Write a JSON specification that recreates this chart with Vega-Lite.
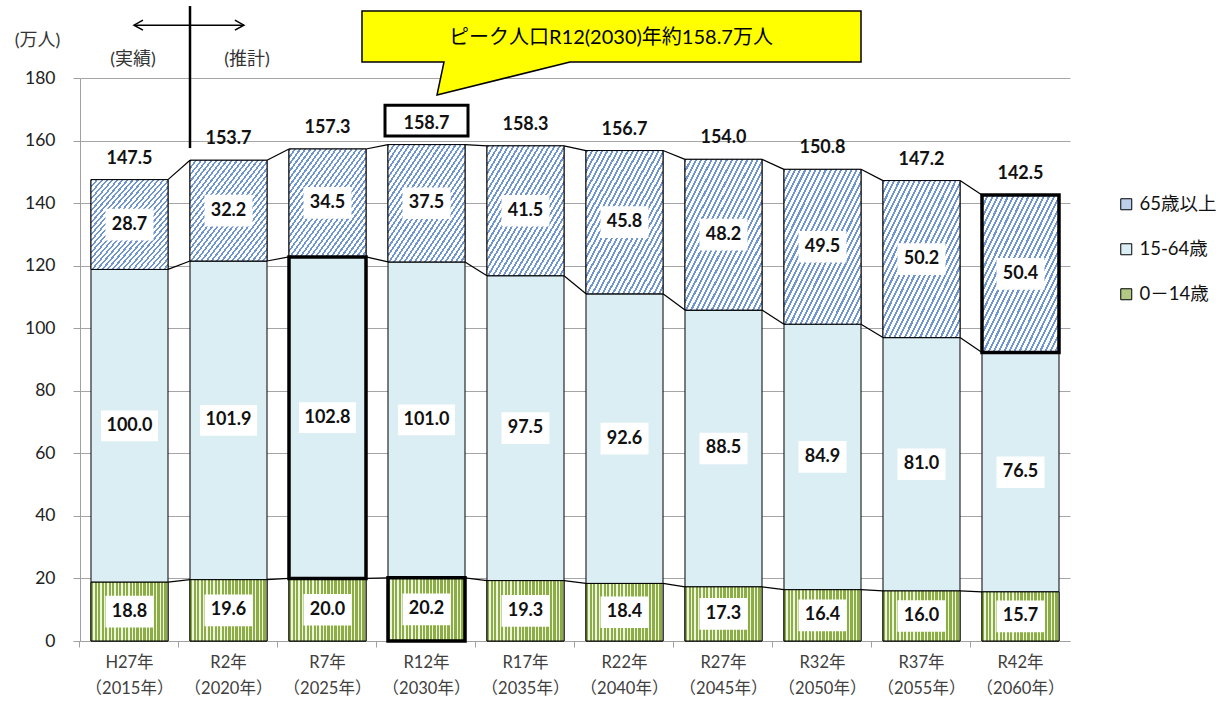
{
  "$schema": "https://vega.github.io/schema/vega-lite/v6.json",
  "width": 990,
  "height": 563,
  "autosize": {"type": "none"},
  "padding": {"left": 80, "top": 78, "right": 161, "bottom": 63},
  "background": "white",
  "config": {"view": {"stroke": null}, "font": "Lato, Noto Sans CJK JP"},
  "data": {"values": [
    {"year": "H27年（2015年）", "yr": 2015, "series": "0－14歳", "ord": 1, "value": 18.8},
    {"year": "H27年（2015年）", "yr": 2015, "series": "15-64歳", "ord": 2, "value": 100.0},
    {"year": "H27年（2015年）", "yr": 2015, "series": "65歳以上", "ord": 3, "value": 28.7},
    {"year": "R2年（2020年）", "yr": 2020, "series": "0－14歳", "ord": 1, "value": 19.6},
    {"year": "R2年（2020年）", "yr": 2020, "series": "15-64歳", "ord": 2, "value": 101.9},
    {"year": "R2年（2020年）", "yr": 2020, "series": "65歳以上", "ord": 3, "value": 32.2},
    {"year": "R7年（2025年）", "yr": 2025, "series": "0－14歳", "ord": 1, "value": 20.0},
    {"year": "R7年（2025年）", "yr": 2025, "series": "15-64歳", "ord": 2, "value": 102.8},
    {"year": "R7年（2025年）", "yr": 2025, "series": "65歳以上", "ord": 3, "value": 34.5},
    {"year": "R12年（2030年）", "yr": 2030, "series": "0－14歳", "ord": 1, "value": 20.2},
    {"year": "R12年（2030年）", "yr": 2030, "series": "15-64歳", "ord": 2, "value": 101.0},
    {"year": "R12年（2030年）", "yr": 2030, "series": "65歳以上", "ord": 3, "value": 37.5},
    {"year": "R17年（2035年）", "yr": 2035, "series": "0－14歳", "ord": 1, "value": 19.3},
    {"year": "R17年（2035年）", "yr": 2035, "series": "15-64歳", "ord": 2, "value": 97.5},
    {"year": "R17年（2035年）", "yr": 2035, "series": "65歳以上", "ord": 3, "value": 41.5},
    {"year": "R22年（2040年）", "yr": 2040, "series": "0－14歳", "ord": 1, "value": 18.4},
    {"year": "R22年（2040年）", "yr": 2040, "series": "15-64歳", "ord": 2, "value": 92.6},
    {"year": "R22年（2040年）", "yr": 2040, "series": "65歳以上", "ord": 3, "value": 45.8},
    {"year": "R27年（2045年）", "yr": 2045, "series": "0－14歳", "ord": 1, "value": 17.3},
    {"year": "R27年（2045年）", "yr": 2045, "series": "15-64歳", "ord": 2, "value": 88.5},
    {"year": "R27年（2045年）", "yr": 2045, "series": "65歳以上", "ord": 3, "value": 48.2},
    {"year": "R32年（2050年）", "yr": 2050, "series": "0－14歳", "ord": 1, "value": 16.4},
    {"year": "R32年（2050年）", "yr": 2050, "series": "15-64歳", "ord": 2, "value": 84.9},
    {"year": "R32年（2050年）", "yr": 2050, "series": "65歳以上", "ord": 3, "value": 49.5},
    {"year": "R37年（2055年）", "yr": 2055, "series": "0－14歳", "ord": 1, "value": 16.0},
    {"year": "R37年（2055年）", "yr": 2055, "series": "15-64歳", "ord": 2, "value": 81.0},
    {"year": "R37年（2055年）", "yr": 2055, "series": "65歳以上", "ord": 3, "value": 50.2},
    {"year": "R42年（2060年）", "yr": 2060, "series": "0－14歳", "ord": 1, "value": 15.7},
    {"year": "R42年（2060年）", "yr": 2060, "series": "15-64歳", "ord": 2, "value": 76.5},
    {"year": "R42年（2060年）", "yr": 2060, "series": "65歳以上", "ord": 3, "value": 50.4}
  ]},
  "layer": [
    {
      "mark": {"type": "bar", "stroke": "black", "strokeWidth": 1},
      "encoding": {
        "x": {
          "field": "year", "type": "nominal",
          "scale": {
            "domain": ["H27年（2015年）", "R2年（2020年）", "R7年（2025年）", "R12年（2030年）", "R17年（2035年）", "R22年（2040年）", "R27年（2045年）", "R32年（2050年）", "R37年（2055年）", "R42年（2060年）"],
            "paddingInner": 0.2222, "paddingOuter": 0.1111
          },
          "axis": {
            "title": null,
            "labelExpr": "[slice(datum.label, 0, indexof(datum.label, '（')), slice(datum.label, indexof(datum.label, '（'))]",
            "labelFontSize": 16.5, "labelColor": "#404040", "labelLineHeight": 26,
            "labelPadding": 7, "labelAngle": 0, "tickSize": 6, "tickColor": "#a0a0a0",
            "domainColor": "#a0a0a0", "grid": false, "bandPosition": -0.143
          }
        },
        "y": {
          "field": "value", "type": "quantitative", "stack": "zero",
          "scale": {"domain": [0, 180], "nice": false},
          "axis": {
            "values": [0, 20, 40, 60, 80, 100, 120, 140, 160, 180],
            "title": "(万人)", "titleAngle": 0, "titleX": -43, "titleY": -38,
            "titleAlign": "center", "titleBaseline": "middle", "titleFontSize": 18,
            "titleFontWeight": "normal", "titleColor": "#333333",
            "labelFontSize": 17.5, "labelColor": "#222222", "labelPadding": 18,
            "tickSize": 7, "tickColor": "#a0a0a0", "domainColor": "#a0a0a0",
            "grid": true, "gridColor": "#a6a6a6"
          }
        },
        "color": {
          "field": "series", "type": "nominal",
          "scale": {
            "domain": ["65歳以上", "15-64歳", "0－14歳"],
            "range": ["#bcd0ee", "#dbeef4", "#b3c983"]
          },
          "legend": {
            "title": null, "orient": "none", "legendX": 1037, "legendY": 117,
            "symbolType": "square", "symbolSize": 121, "symbolStrokeColor": "black",
            "symbolStrokeWidth": 1, "symbolOpacity": 1, "labelFontSize": 18.5, "labelColor": "#111111",
            "rowPadding": 26, "labelOffset": 4
          }
        },
        "order": {"field": "ord", "type": "quantitative"}
      }
    },
    {
      "transform": [
        {"stack": "value", "groupby": ["year"], "sort": [{"field": "ord", "order": "ascending"}], "as": ["s0", "s1"]},
        {"filter": "datum.series === '65歳以上'"}
      ],
      "mark": {"type": "bar", "stroke": "black", "strokeWidth": 1,
        "fill": {"gradient": "linear", "x1": 0, "y1": 0, "x2": 1, "y2": 1, "stops": [
          {"offset": 0, "color": "#6f96d1"}, {"offset": 0.0133, "color": "#6f96d1"}, {"offset": 0.0133, "color": "#ffffff"}, {"offset": 0.0333, "color": "#ffffff"},
          {"offset": 0.0333, "color": "#6f96d1"}, {"offset": 0.0467, "color": "#6f96d1"}, {"offset": 0.0467, "color": "#ffffff"}, {"offset": 0.0667, "color": "#ffffff"},
          {"offset": 0.0667, "color": "#6f96d1"}, {"offset": 0.08, "color": "#6f96d1"}, {"offset": 0.08, "color": "#ffffff"}, {"offset": 0.1, "color": "#ffffff"},
          {"offset": 0.1, "color": "#6f96d1"}, {"offset": 0.1133, "color": "#6f96d1"}, {"offset": 0.1133, "color": "#ffffff"}, {"offset": 0.1333, "color": "#ffffff"},
          {"offset": 0.1333, "color": "#6f96d1"}, {"offset": 0.1467, "color": "#6f96d1"}, {"offset": 0.1467, "color": "#ffffff"}, {"offset": 0.1667, "color": "#ffffff"},
          {"offset": 0.1667, "color": "#6f96d1"}, {"offset": 0.18, "color": "#6f96d1"}, {"offset": 0.18, "color": "#ffffff"}, {"offset": 0.2, "color": "#ffffff"},
          {"offset": 0.2, "color": "#6f96d1"}, {"offset": 0.2133, "color": "#6f96d1"}, {"offset": 0.2133, "color": "#ffffff"}, {"offset": 0.2333, "color": "#ffffff"},
          {"offset": 0.2333, "color": "#6f96d1"}, {"offset": 0.2467, "color": "#6f96d1"}, {"offset": 0.2467, "color": "#ffffff"}, {"offset": 0.2667, "color": "#ffffff"},
          {"offset": 0.2667, "color": "#6f96d1"}, {"offset": 0.28, "color": "#6f96d1"}, {"offset": 0.28, "color": "#ffffff"}, {"offset": 0.3, "color": "#ffffff"},
          {"offset": 0.3, "color": "#6f96d1"}, {"offset": 0.3133, "color": "#6f96d1"}, {"offset": 0.3133, "color": "#ffffff"}, {"offset": 0.3333, "color": "#ffffff"},
          {"offset": 0.3333, "color": "#6f96d1"}, {"offset": 0.3467, "color": "#6f96d1"}, {"offset": 0.3467, "color": "#ffffff"}, {"offset": 0.3667, "color": "#ffffff"},
          {"offset": 0.3667, "color": "#6f96d1"}, {"offset": 0.38, "color": "#6f96d1"}, {"offset": 0.38, "color": "#ffffff"}, {"offset": 0.4, "color": "#ffffff"},
          {"offset": 0.4, "color": "#6f96d1"}, {"offset": 0.4133, "color": "#6f96d1"}, {"offset": 0.4133, "color": "#ffffff"}, {"offset": 0.4333, "color": "#ffffff"},
          {"offset": 0.4333, "color": "#6f96d1"}, {"offset": 0.4467, "color": "#6f96d1"}, {"offset": 0.4467, "color": "#ffffff"}, {"offset": 0.4667, "color": "#ffffff"},
          {"offset": 0.4667, "color": "#6f96d1"}, {"offset": 0.48, "color": "#6f96d1"}, {"offset": 0.48, "color": "#ffffff"}, {"offset": 0.5, "color": "#ffffff"},
          {"offset": 0.5, "color": "#6f96d1"}, {"offset": 0.5133, "color": "#6f96d1"}, {"offset": 0.5133, "color": "#ffffff"}, {"offset": 0.5333, "color": "#ffffff"},
          {"offset": 0.5333, "color": "#6f96d1"}, {"offset": 0.5467, "color": "#6f96d1"}, {"offset": 0.5467, "color": "#ffffff"}, {"offset": 0.5667, "color": "#ffffff"},
          {"offset": 0.5667, "color": "#6f96d1"}, {"offset": 0.58, "color": "#6f96d1"}, {"offset": 0.58, "color": "#ffffff"}, {"offset": 0.6, "color": "#ffffff"},
          {"offset": 0.6, "color": "#6f96d1"}, {"offset": 0.6133, "color": "#6f96d1"}, {"offset": 0.6133, "color": "#ffffff"}, {"offset": 0.6333, "color": "#ffffff"},
          {"offset": 0.6333, "color": "#6f96d1"}, {"offset": 0.6467, "color": "#6f96d1"}, {"offset": 0.6467, "color": "#ffffff"}, {"offset": 0.6667, "color": "#ffffff"},
          {"offset": 0.6667, "color": "#6f96d1"}, {"offset": 0.68, "color": "#6f96d1"}, {"offset": 0.68, "color": "#ffffff"}, {"offset": 0.7, "color": "#ffffff"},
          {"offset": 0.7, "color": "#6f96d1"}, {"offset": 0.7133, "color": "#6f96d1"}, {"offset": 0.7133, "color": "#ffffff"}, {"offset": 0.7333, "color": "#ffffff"},
          {"offset": 0.7333, "color": "#6f96d1"}, {"offset": 0.7467, "color": "#6f96d1"}, {"offset": 0.7467, "color": "#ffffff"}, {"offset": 0.7667, "color": "#ffffff"},
          {"offset": 0.7667, "color": "#6f96d1"}, {"offset": 0.78, "color": "#6f96d1"}, {"offset": 0.78, "color": "#ffffff"}, {"offset": 0.8, "color": "#ffffff"},
          {"offset": 0.8, "color": "#6f96d1"}, {"offset": 0.8133, "color": "#6f96d1"}, {"offset": 0.8133, "color": "#ffffff"}, {"offset": 0.8333, "color": "#ffffff"},
          {"offset": 0.8333, "color": "#6f96d1"}, {"offset": 0.8467, "color": "#6f96d1"}, {"offset": 0.8467, "color": "#ffffff"}, {"offset": 0.8667, "color": "#ffffff"},
          {"offset": 0.8667, "color": "#6f96d1"}, {"offset": 0.88, "color": "#6f96d1"}, {"offset": 0.88, "color": "#ffffff"}, {"offset": 0.9, "color": "#ffffff"},
          {"offset": 0.9, "color": "#6f96d1"}, {"offset": 0.9133, "color": "#6f96d1"}, {"offset": 0.9133, "color": "#ffffff"}, {"offset": 0.9333, "color": "#ffffff"},
          {"offset": 0.9333, "color": "#6f96d1"}, {"offset": 0.9467, "color": "#6f96d1"}, {"offset": 0.9467, "color": "#ffffff"}, {"offset": 0.9667, "color": "#ffffff"},
          {"offset": 0.9667, "color": "#6f96d1"}, {"offset": 0.98, "color": "#6f96d1"}, {"offset": 0.98, "color": "#ffffff"}, {"offset": 1, "color": "#ffffff"}
        ]}},
      "encoding": {
        "x": {"field": "year", "type": "nominal"},
        "y": {"field": "s0", "type": "quantitative"},
        "y2": {"field": "s1"}
      }
    },
    {
      "transform": [
        {"stack": "value", "groupby": ["year"], "sort": [{"field": "ord", "order": "ascending"}], "as": ["s0", "s1"]},
        {"filter": "datum.series === '0－14歳'"}
      ],
      "mark": {"type": "bar", "stroke": "black", "strokeWidth": 1,
        "fill": {"gradient": "linear", "x1": 0, "y1": 0, "x2": 1, "y2": 0, "stops": [
          {"offset": 0, "color": "#8cad45"}, {"offset": 0.0273, "color": "#8cad45"}, {"offset": 0.0273, "color": "#eef4e0"}, {"offset": 0.0455, "color": "#eef4e0"},
          {"offset": 0.0455, "color": "#8cad45"}, {"offset": 0.0727, "color": "#8cad45"}, {"offset": 0.0727, "color": "#eef4e0"}, {"offset": 0.0909, "color": "#eef4e0"},
          {"offset": 0.0909, "color": "#8cad45"}, {"offset": 0.1182, "color": "#8cad45"}, {"offset": 0.1182, "color": "#eef4e0"}, {"offset": 0.1364, "color": "#eef4e0"},
          {"offset": 0.1364, "color": "#8cad45"}, {"offset": 0.1636, "color": "#8cad45"}, {"offset": 0.1636, "color": "#eef4e0"}, {"offset": 0.1818, "color": "#eef4e0"},
          {"offset": 0.1818, "color": "#8cad45"}, {"offset": 0.2091, "color": "#8cad45"}, {"offset": 0.2091, "color": "#eef4e0"}, {"offset": 0.2273, "color": "#eef4e0"},
          {"offset": 0.2273, "color": "#8cad45"}, {"offset": 0.2545, "color": "#8cad45"}, {"offset": 0.2545, "color": "#eef4e0"}, {"offset": 0.2727, "color": "#eef4e0"},
          {"offset": 0.2727, "color": "#8cad45"}, {"offset": 0.3, "color": "#8cad45"}, {"offset": 0.3, "color": "#eef4e0"}, {"offset": 0.3182, "color": "#eef4e0"},
          {"offset": 0.3182, "color": "#8cad45"}, {"offset": 0.3455, "color": "#8cad45"}, {"offset": 0.3455, "color": "#eef4e0"}, {"offset": 0.3636, "color": "#eef4e0"},
          {"offset": 0.3636, "color": "#8cad45"}, {"offset": 0.3909, "color": "#8cad45"}, {"offset": 0.3909, "color": "#eef4e0"}, {"offset": 0.4091, "color": "#eef4e0"},
          {"offset": 0.4091, "color": "#8cad45"}, {"offset": 0.4364, "color": "#8cad45"}, {"offset": 0.4364, "color": "#eef4e0"}, {"offset": 0.4545, "color": "#eef4e0"},
          {"offset": 0.4545, "color": "#8cad45"}, {"offset": 0.4818, "color": "#8cad45"}, {"offset": 0.4818, "color": "#eef4e0"}, {"offset": 0.5, "color": "#eef4e0"},
          {"offset": 0.5, "color": "#8cad45"}, {"offset": 0.5273, "color": "#8cad45"}, {"offset": 0.5273, "color": "#eef4e0"}, {"offset": 0.5455, "color": "#eef4e0"},
          {"offset": 0.5455, "color": "#8cad45"}, {"offset": 0.5727, "color": "#8cad45"}, {"offset": 0.5727, "color": "#eef4e0"}, {"offset": 0.5909, "color": "#eef4e0"},
          {"offset": 0.5909, "color": "#8cad45"}, {"offset": 0.6182, "color": "#8cad45"}, {"offset": 0.6182, "color": "#eef4e0"}, {"offset": 0.6364, "color": "#eef4e0"},
          {"offset": 0.6364, "color": "#8cad45"}, {"offset": 0.6636, "color": "#8cad45"}, {"offset": 0.6636, "color": "#eef4e0"}, {"offset": 0.6818, "color": "#eef4e0"},
          {"offset": 0.6818, "color": "#8cad45"}, {"offset": 0.7091, "color": "#8cad45"}, {"offset": 0.7091, "color": "#eef4e0"}, {"offset": 0.7273, "color": "#eef4e0"},
          {"offset": 0.7273, "color": "#8cad45"}, {"offset": 0.7545, "color": "#8cad45"}, {"offset": 0.7545, "color": "#eef4e0"}, {"offset": 0.7727, "color": "#eef4e0"},
          {"offset": 0.7727, "color": "#8cad45"}, {"offset": 0.8, "color": "#8cad45"}, {"offset": 0.8, "color": "#eef4e0"}, {"offset": 0.8182, "color": "#eef4e0"},
          {"offset": 0.8182, "color": "#8cad45"}, {"offset": 0.8455, "color": "#8cad45"}, {"offset": 0.8455, "color": "#eef4e0"}, {"offset": 0.8636, "color": "#eef4e0"},
          {"offset": 0.8636, "color": "#8cad45"}, {"offset": 0.8909, "color": "#8cad45"}, {"offset": 0.8909, "color": "#eef4e0"}, {"offset": 0.9091, "color": "#eef4e0"},
          {"offset": 0.9091, "color": "#8cad45"}, {"offset": 0.9364, "color": "#8cad45"}, {"offset": 0.9364, "color": "#eef4e0"}, {"offset": 0.9545, "color": "#eef4e0"},
          {"offset": 0.9545, "color": "#8cad45"}, {"offset": 0.9818, "color": "#8cad45"}, {"offset": 0.9818, "color": "#eef4e0"}, {"offset": 1, "color": "#eef4e0"}
        ]}},
      "encoding": {
        "x": {"field": "year", "type": "nominal"},
        "y": {"field": "s0", "type": "quantitative"},
        "y2": {"field": "s1"}
      }
    },
    {
      "transform": [
        {"stack": "value", "groupby": ["year"], "sort": [{"field": "ord", "order": "ascending"}], "as": ["s0", "s1"]},
        {"window": [{"op": "lead", "field": "year", "as": "nyear"}, {"op": "lead", "field": "s1", "as": "ns1"}], "groupby": ["series"], "sort": [{"field": "yr", "order": "ascending"}]},
        {"filter": "datum.nyear != null"}
      ],
      "mark": {"type": "rule", "color": "black", "strokeWidth": 1.2},
      "encoding": {
        "x": {"field": "year", "type": "nominal", "bandPosition": 1},
        "x2": {"field": "nyear", "bandPosition": 0},
        "y": {"field": "s1", "type": "quantitative"},
        "y2": {"field": "ns1"}
      }
    },
    {
      "transform": [
        {"stack": "value", "groupby": ["year"], "sort": [{"field": "ord", "order": "ascending"}], "as": ["s0", "s1"]},
        {"filter": "(datum.year === 'R7年（2025年）' && datum.series === '15-64歳') || (datum.year === 'R12年（2030年）' && datum.series === '0－14歳') || (datum.year === 'R42年（2060年）' && datum.series === '65歳以上')"}
      ],
      "mark": {"type": "bar", "fill": "white", "fillOpacity": 0, "stroke": "black", "strokeWidth": 3.5},
      "encoding": {
        "x": {"field": "year", "type": "nominal"},
        "y": {"field": "s0", "type": "quantitative"},
        "y2": {"field": "s1"}
      }
    },
    {
      "mark": {"type": "point", "filled": true, "fill": "white", "opacity": 1, "strokeWidth": 0},
      "encoding": {
        "x": {"field": "year", "type": "nominal"},
        "y": {"field": "value", "type": "quantitative", "stack": "zero", "bandPosition": 0.5},
        "detail": {"field": "series"},
        "order": {"field": "ord", "type": "quantitative"},
        "shape": {"condition": {"test": "datum.value >= 100", "value": "M-1,-0.54H1V0.54H-1Z"}, "value": "M-1,-0.66H1V0.66H-1Z"},
        "size": {"condition": {"test": "datum.value >= 100", "value": 3249}, "value": 2304}
      }
    },
    {
      "mark": {"type": "text", "fontSize": 18, "fontWeight": "bold", "color": "#111111", "baseline": "middle"},
      "encoding": {
        "x": {"field": "year", "type": "nominal"},
        "y": {"field": "value", "type": "quantitative", "stack": "zero", "bandPosition": 0.5},
        "detail": {"field": "series"},
        "order": {"field": "ord", "type": "quantitative"},
        "text": {"field": "value", "type": "quantitative", "format": ".1f"}
      }
    },
    {
      "data": {"values": [
        {"year": "H27年（2015年）", "total": 147.5},
        {"year": "R2年（2020年）", "total": 153.7},
        {"year": "R7年（2025年）", "total": 157.3},
        {"year": "R12年（2030年）", "total": 158.7},
        {"year": "R17年（2035年）", "total": 158.3},
        {"year": "R22年（2040年）", "total": 156.7},
        {"year": "R27年（2045年）", "total": 154.0},
        {"year": "R32年（2050年）", "total": 150.8},
        {"year": "R37年（2055年）", "total": 147.2},
        {"year": "R42年（2060年）", "total": 142.5}
      ]},
      "layer": [
        {
          "transform": [{"filter": "datum.year === 'R12年（2030年）'"}],
          "mark": {"type": "point", "shape": "M-1,-0.373H1V0.373H-1Z", "size": 6889, "filled": true, "fill": "white", "stroke": "black", "strokeWidth": 3, "opacity": 1, "yOffset": -24},
          "encoding": {
            "x": {"field": "year", "type": "nominal"},
            "y": {"field": "total", "type": "quantitative"}
          }
        },
        {
          "mark": {"type": "text", "fontSize": 18, "fontWeight": "bold", "color": "#111111", "baseline": "middle", "dy": -21},
          "encoding": {
            "x": {"field": "year", "type": "nominal"},
            "y": {"field": "total", "type": "quantitative"},
            "text": {"field": "total", "type": "quantitative", "format": ".1f"}
          }
        }
      ]
    },
    {
      "data": {"values": [{"c": "R12年（2030年）", "label": "ピーク人口R12(2030)年約158.7万人"}]},
      "layer": [
        {
          "mark": {"type": "point", "shape": "M-0.645,-0.67H4.345V-0.16H1.435L0.105,0.17L0.175,-0.16H-0.645Z", "size": 40000, "filled": true, "fill": "#ffff00", "stroke": "black", "strokeWidth": 1.5, "opacity": 1},
          "encoding": {
            "x": {"field": "c", "type": "nominal"},
            "y": {"datum": 180, "type": "quantitative"}
          }
        },
        {
          "mark": {"type": "text", "fontSize": 20, "color": "#000000", "baseline": "middle", "align": "center", "dx": 184.5, "dy": -40},
          "encoding": {
            "x": {"field": "c", "type": "nominal"},
            "y": {"datum": 180, "type": "quantitative"},
            "text": {"field": "label"}
          }
        }
      ]
    },
    {
      "data": {"values": [{"a": "H27年（2015年）", "b": "R2年（2020年）", "l1": "(実績)", "l2": "(推計)"}]},
      "layer": [
        {
          "mark": {"type": "rule", "color": "black", "strokeWidth": 2.5},
          "encoding": {
            "x": {"field": "b", "type": "nominal", "bandPosition": 0},
            "y": {"datum": 203, "type": "quantitative"},
            "y2": {"datum": 157.6}
          }
        },
        {
          "mark": {"type": "rule", "color": "black", "strokeWidth": 1.5},
          "encoding": {
            "x": {"field": "a", "type": "nominal", "bandPosition": 0.558},
            "x2": {"field": "b", "bandPosition": 0.7},
            "y": {"datum": 196.9, "type": "quantitative"}
          }
        },
        {
          "mark": {"type": "point", "shape": "M1.2,-0.67L0,0L1.2,0.67", "size": 225, "filled": false, "stroke": "black", "strokeWidth": 1.5, "opacity": 1},
          "encoding": {
            "x": {"field": "a", "type": "nominal", "bandPosition": 0.558},
            "y": {"datum": 196.9, "type": "quantitative"}
          }
        },
        {
          "mark": {"type": "point", "shape": "M-1.2,-0.67L0,0L-1.2,0.67", "size": 225, "filled": false, "stroke": "black", "strokeWidth": 1.5, "opacity": 1},
          "encoding": {
            "x": {"field": "b", "type": "nominal", "bandPosition": 0.7},
            "y": {"datum": 196.9, "type": "quantitative"}
          }
        },
        {
          "mark": {"type": "text", "fontSize": 18, "color": "#333333", "baseline": "middle", "align": "center", "dx": 3.5},
          "encoding": {
            "x": {"field": "a", "type": "nominal"},
            "y": {"datum": 185.7, "type": "quantitative"},
            "text": {"field": "l1"}
          }
        },
        {
          "mark": {"type": "text", "fontSize": 18, "color": "#333333", "baseline": "middle", "align": "center", "dx": 18.5},
          "encoding": {
            "x": {"field": "b", "type": "nominal"},
            "y": {"datum": 185.7, "type": "quantitative"},
            "text": {"field": "l2"}
          }
        }
      ]
    }
  ]
}
